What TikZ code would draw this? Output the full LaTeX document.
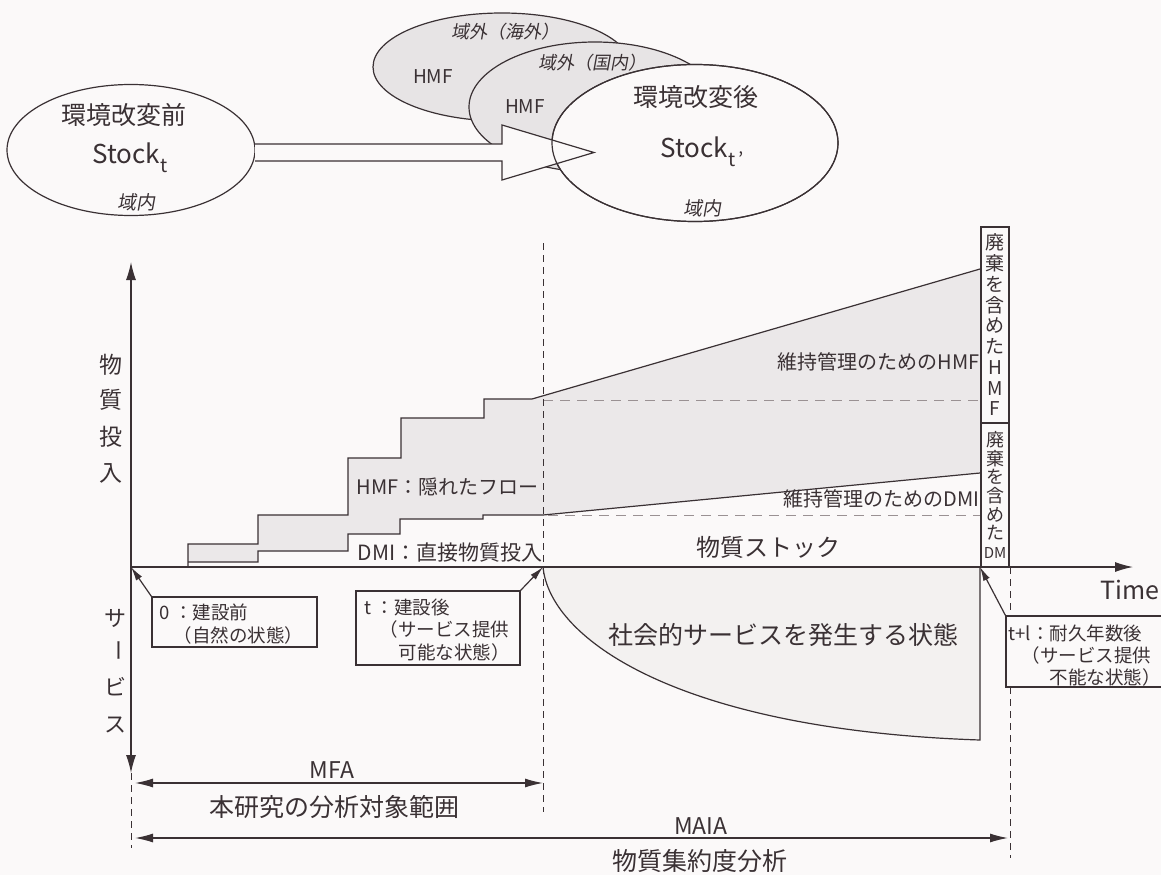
\documentclass[tikz,border=0pt]{standalone}
\usepackage{fontspec}
\setmainfont{Noto Sans CJK JP}
\newfontfamily\jpslant[FakeSlant=0.18]{Noto Sans CJK JP}
\usetikzlibrary{arrows.meta,shapes.geometric}
\definecolor{ink}{HTML}{3A3134}
\definecolor{bgc}{HTML}{FBF9F9}
\definecolor{bandc}{HTML}{EBE8E9}
\definecolor{servc}{HTML}{F3F1F0}
\definecolor{ellc}{HTML}{E7E4E5}
\definecolor{dashc}{HTML}{9A9193}
\newcommand{\myfs}[1]{\fontsize{#1}{#1}\selectfont}
\tikzset{
  bigtip/.tip={Latex[length=18pt,width=10pt]},
  midtip/.tip={Latex[length=18pt,width=9pt]},
  smtip/.tip={Latex[length=14pt,width=7pt]},
}
\begin{document}
\begin{tikzpicture}[x=1pt,y=-1pt, line width=1.2pt, color=ink,
  ell/.style={ellipse, draw=ink, inner sep=0pt},
  lbl/.style={inner sep=0pt, text=ink},
  smalltip/.style={-smtip},
  vdash/.style={ink, line width=1pt, dash pattern=on 7pt off 5pt},
  hdash/.style={dashc, line width=1pt, dash pattern=on 10pt off 7pt},
  infobox/.style={draw=ink, fill=bgc, inner sep=0pt, line width=1.1pt},
  boxtxt/.style={lbl, font=\myfs{18.5}},
]
\fill[bgc] (0,0) rectangle (1161,875);
\useasboundingbox (0,0) rectangle (1161,875);

% ---------- top part ----------
\node[ell, fill=bgc, minimum width=248pt, minimum height=131pt] (L) at (131,150) {};
\node[ell, fill=ellc, minimum width=258pt, minimum height=108pt] (E1) at (502,67) {};
\node[ell, fill=ellc, minimum width=252pt, minimum height=130pt] (E2) at (595,107) {};
\node[ell, fill=bgc, minimum width=286pt, minimum height=157pt] (E3) at (695,143) {};
\draw[fill=bgc, line join=miter] (255,144) -- (502,144) -- (502,125) -- (594,152.5)
      -- (502,180) -- (502,161) -- (255,161);
\node[ell, minimum width=286pt, minimum height=157pt] (E3o) at (695,143) {};

\node[lbl, font=\myfs{25}] (Lt1) at (124,115) {環境改変前};
\node[lbl, anchor=base west, font=\myfs{26}] (Lt2) at (92,163) {Stock\raisebox{-9pt}{\myfs{19}t}};
\node[lbl, font=\jpslant\myfs{19}] (Lt3) at (136,202) {域内};

\node[lbl, font=\jpslant\myfs{18}] (E1t1) at (505,32) {域外（海外）};
\node[lbl, font=\myfs{19}] (E1t2) at (433,77) {HMF};
\node[lbl, font=\jpslant\myfs{18}] (E2t1) at (592,63) {域外（国内）};
\node[lbl, font=\myfs{19}] (E2t2) at (525,107) {HMF};
\node[lbl, font=\myfs{25}] (E3t1) at (696,97) {環境改変後};
\node[lbl, anchor=base west, font=\myfs{26}] (E3t2) at (660,157) {Stock\raisebox{-9pt}{\myfs{19}t\,'}};
\node[lbl, font=\jpslant\myfs{19}] (E3t3) at (702,208) {域内};

% ---------- chart ----------
\coordinate (O) at (131,567);
\coordinate (T) at (543,567);
\coordinate (TL) at (980,567);
\coordinate (Yt) at (131,262);
\coordinate (Yb) at (131,773);
\coordinate (Xe) at (1133,567);

\fill[bandc] (188,544) -- (258,544) -- (258,515) -- (348,515) -- (348,458) -- (401,458)
  -- (401,418) -- (484,418) -- (484,399) -- (532,399) -- (980,269) -- (980,473)
  -- (543,515) -- (483,515) -- (483,519) -- (400,519) -- (400,534) -- (348,534)
  -- (348,551) -- (258,551) -- (258,562) -- (188,562) -- cycle;

\draw[fill=servc] (T) .. controls (550,640) and (680,730) .. (980,740) -- (TL);

\draw[line join=miter] (188,567) -- (188,544) -- (258,544) -- (258,515) -- (348,515) -- (348,458)
  -- (401,458) -- (401,418) -- (484,418) -- (484,399) -- (532,399) -- (980,269);
\draw[line join=miter] (188,562) -- (258,562) -- (258,551) -- (348,551) -- (348,534) -- (400,534)
  -- (400,519) -- (483,519) -- (483,515) -- (543,515) -- (980,473);

\draw[hdash] (543,400) -- (980,400);
\draw[hdash] (548,515) -- (980,515);

\draw[vdash] (543,243) -- (543,812);
\draw[vdash] (131,773) -- (131,848);
\draw[vdash] (1010,567) -- (1010,858);

\draw[bigtip-bigtip] (Yt) -- (Yb);
\draw[-bigtip] (O) -- (Xe);

\node[infobox, minimum width=28pt, minimum height=196pt, align=center,
      font=\fontsize{19}{20.75}\selectfont] (BH) at (995,325) {廃\\棄\\を\\含\\め\\た\\H\\M\\F};
\node[infobox, minimum width=28pt, minimum height=144pt, align=center,
      font=\fontsize{18}{18.6}\selectfont] (BD) at (995,495) {廃\\棄\\を\\含\\め\\た\\{\myfs{15}DM}};

% labels in chart
\node[lbl, font=\myfs{23}] (y1) at (111,365) {物};
\node[lbl, font=\myfs{23}] (y2) at (111,400) {質};
\node[lbl, font=\myfs{23}] (y3) at (111,437) {投};
\node[lbl, font=\myfs{23}] (y4) at (111,473) {入};
\node[lbl, font=\myfs{22}] (s1) at (115,618) {サ};
\node[lbl, font=\myfs{22}, rotate=-90] (s2) at (115,650) {ー};
\node[lbl, font=\myfs{22}] (s3) at (115,687) {ビ};
\node[lbl, font=\myfs{22}] (s4) at (115,725) {ス};

\node[lbl, anchor=west, font=\myfs{20}] (hmf) at (356,487) {HMF：隠れたフロー};
\node[lbl, anchor=west, font=\myfs{21}] (dmi) at (357,553) {DMI：直接物質投入};
\node[lbl, anchor=east, font=\myfs{20}] (mhmf) at (980,362) {維持管理のためのHMF};
\node[lbl, anchor=east, font=\myfs{20}] (mdmi) at (980,499) {維持管理のためのDMI};
\node[lbl, font=\myfs{24}] (stock) at (768,547) {物質ストック};
\node[lbl, font=\myfs{25}] (serv) at (783,635) {社会的サービスを発生する状態};
\node[lbl, anchor=west, font=\myfs{25}] (time) at (1100,590) {Time};

% info boxes
\node[infobox, minimum width=165pt, minimum height=50pt] (B0) at (234.5,622) {};
\node[boxtxt, anchor=west] (B0a) at (159,612) {0 ：建設前};
\node[boxtxt, anchor=west] (B0b) at (173,635) {（自然の状態）};
\draw[smalltip] (B0.north west) -- (O);

\node[infobox, minimum width=164pt, minimum height=74pt] (Bt) at (438,628) {};
\node[boxtxt, anchor=west] (Bta) at (364,607) {t ：建設後};
\node[boxtxt, anchor=west] (Btb) at (379,629) {（サービス提供};
\node[boxtxt, anchor=west] (Btc) at (398,652) {可能な状態）};
\draw[smalltip] (Bt.north east) -- (T);

\node[infobox, minimum width=164pt, minimum height=71pt] (Btl) at (1088,651.5) {};
\node[boxtxt, anchor=west] (Btla) at (1008,633) {t+l：耐久年数後};
\node[boxtxt, anchor=west] (Btlb) at (1021,655) {（サービス提供};
\node[boxtxt, anchor=west] (Btlc) at (1049,677) {不能な状態）};
\draw[smalltip] (Btl.north west) -- (TL);

% ranges
\coordinate (M1) at (135,783);
\coordinate (M2) at (543,783);
\coordinate (A1) at (135,838);
\coordinate (A2) at (1008,838);
\draw[midtip-midtip] (M1) -- (M2);
\draw[midtip-midtip] (A1) -- (A2);
\node[lbl, font=\myfs{23}] (mfa) at (332,770) {MFA};
\node[lbl, font=\myfs{25}] (mfa2) at (334,807) {本研究の分析対象範囲};
\node[lbl, font=\myfs{23}] (maia) at (701,826) {MAIA};
\node[lbl, font=\myfs{25}] (maia2) at (700,861) {物質集約度分析};
\end{tikzpicture}
\end{document}
